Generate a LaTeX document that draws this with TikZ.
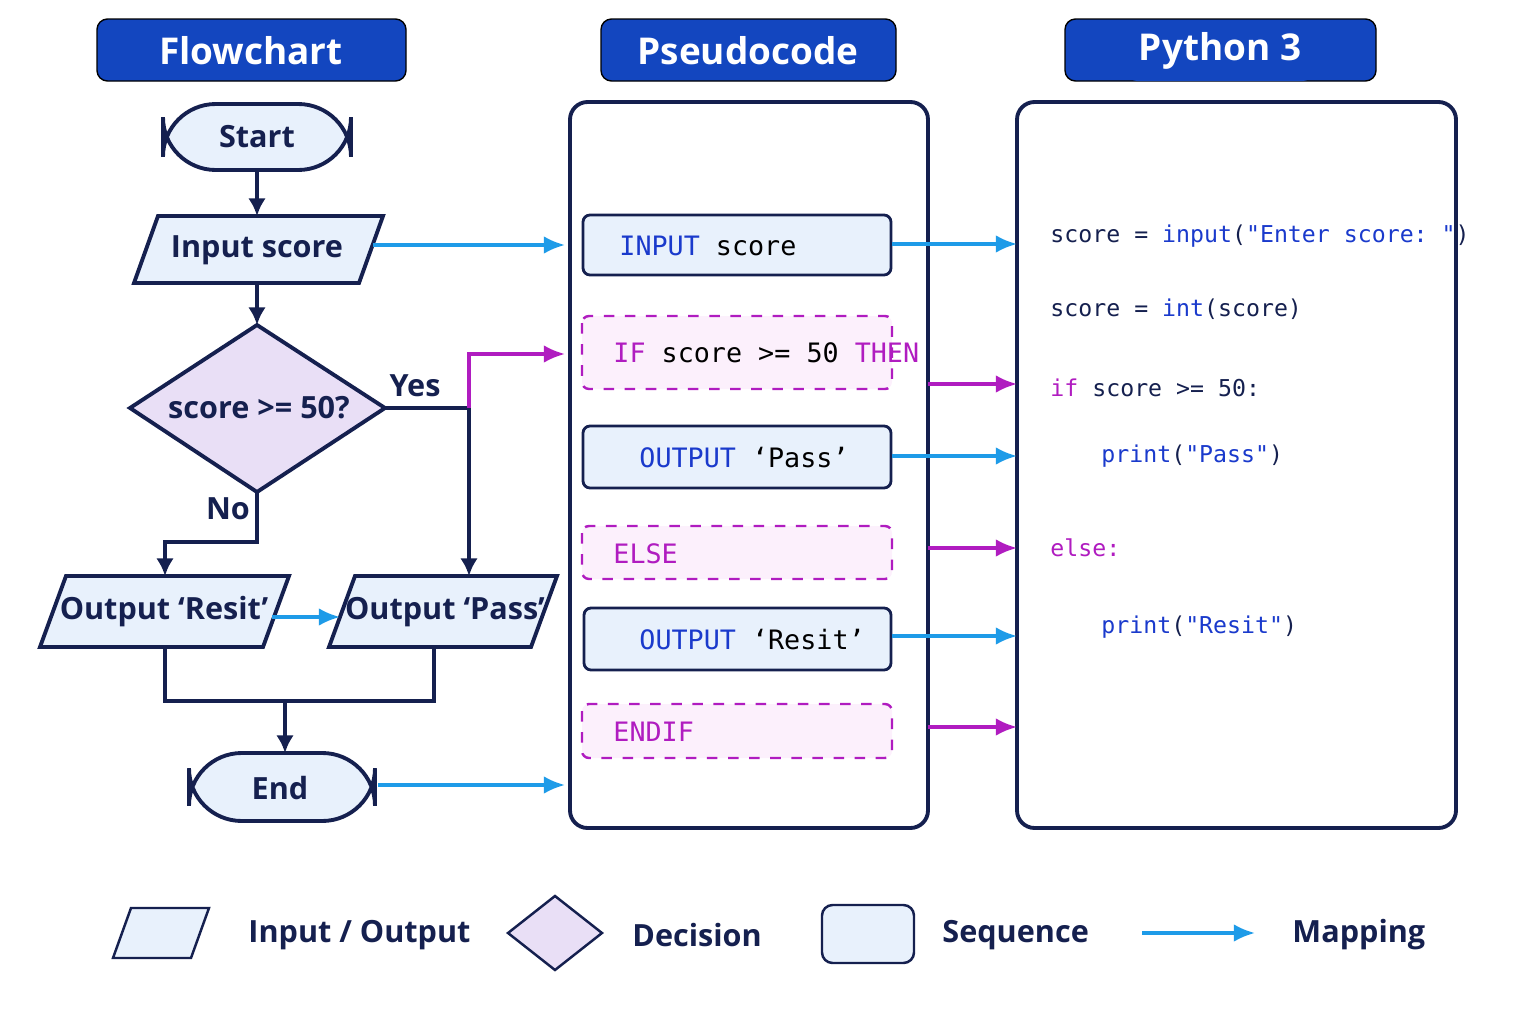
\documentclass[tikz,border=0pt]{standalone}
\usepackage{fontspec}
\setmainfont{Open Sans}
\setmonofont{DejaVu Sans Mono}
\usepackage{tikz}
\usetikzlibrary{arrows.meta,positioning,calc}
\definecolor{navy}{HTML}{15204F}
\definecolor{hdrblue}{HTML}{1346BF}
\definecolor{mapblue}{HTML}{1E9BE8}
\definecolor{magenta}{HTML}{B01CC0}
\definecolor{keyblue}{HTML}{1A3ACC}
\definecolor{boxfill}{HTML}{E8F1FC}
\definecolor{decfill}{HTML}{E9DFF6}
\definecolor{pinkfill}{HTML}{FCF0FC}
\tikzset{
  header/.style={fill=hdrblue,rounded corners=3pt,text=white,font=\fontsize{10.5}{12}\selectfont\bfseries},
  flowline/.style={draw=navy,line width=1.1pt},
  flowarrow/.style={flowline,-{Latex[length=5pt,width=5pt]}},
  maparrow/.style={draw=mapblue,line width=0.9pt,-{Latex[length=6pt,width=5pt]}},
  ifarrow/.style={draw=magenta,line width=0.9pt,-{Latex[length=6pt,width=5pt]}},
  flowtext/.style={font=\fontsize{8.7}{10}\selectfont\bfseries,text=navy},
  seqbox/.style={draw=navy,fill=boxfill,line width=0.8pt,rounded corners=2pt},
  ifbox/.style={draw=magenta,fill=pinkfill,line width=0.7pt,dashed,rounded corners=2pt},
  pseudo/.style={font=\fontsize{7.6}{9}\selectfont\ttfamily,anchor=west},
  pycode/.style={font=\fontsize{6.6}{8}\selectfont\ttfamily,anchor=west,text=navy},
  panel/.style={draw=navy,line width=1.1pt,rounded corners=5pt}
}
\newcommand{\kw}[1]{\textcolor{keyblue}{#1}}
\newcommand{\kif}[1]{\textcolor{magenta}{#1}}
\begin{document}
\begin{tikzpicture}[x=0.01cm,y=-0.01cm]
\useasboundingbox (0,0) rectangle (1536,1024);
% headers
\filldraw[header] (97,19) rectangle (406,81);
\node[header] (hflow) at (251,51) {Flowchart};
\filldraw[header] (601,19) rectangle (896,81);
\node[header] (hpseudo) at (748,51) {Pseudocode};
\filldraw[header] (1065,19) rectangle (1376,81);
\node[header] (hpy) at (1220,51) {Python 3};
% panels
\draw[panel] (570,102) rectangle (928,828);
\draw[panel] (1017,102) rectangle (1456,828);
% flowchart shapes
\draw[flowline,fill=boxfill,rounded corners=15pt] (163,104) rectangle (351,170);
\node[flowtext] (start) at (257,137) {Start};
\draw[flowline,fill=boxfill] (158,216) -- (383,216) -- (359,283) -- (134,283) -- cycle;
\node[flowtext] (input) at (257,250) {Input score};
\draw[flowline,fill=decfill] (257,325) -- (385,408) -- (257,492) -- (130,408) -- cycle;
\node[flowtext] (dec) at (259,408) {score >= 50?};
\draw[flowline,fill=boxfill] (66,576) -- (289,576) -- (263,647) -- (40,647) -- cycle;
\node[flowtext] (resit) at (164,612) {Output ‘Resit’};
\draw[flowline,fill=boxfill] (355,576) -- (557,576) -- (531,647) -- (329,647) -- cycle;
\node[flowtext] (pass) at (445,612) {Output ‘Pass’};
\draw[flowline,fill=boxfill,rounded corners=15pt] (189,753) rectangle (375,821);
\node[flowtext] (end) at (280,788) {End};
% flowchart connectors
\draw[flowarrow] (257,170) -- (257,216);
\draw[flowarrow] (257,283) -- (257,325);
\draw[flowarrow] (257,492) -- (257,542) -- (165,542) -- (165,576);
\node[flowtext] (no) at (228,509) {No};
\draw[flowarrow] (385,408) -- (469,408) -- (469,576);
\node[flowtext] (yes) at (415,386) {Yes};
\draw[ifarrow] (469,408) -- (469,354) -- (565,354);
\draw[maparrow] (272,617) -- (340,617);
\draw[flowline] (165,647) -- (165,701) -- (434,701) -- (434,647);
\draw[flowarrow] (285,701) -- (285,753);
\draw[maparrow] (373,245) -- (565,245);
\draw[maparrow] (378,785) -- (565,785);
% pseudocode
\draw[seqbox] (583,215) rectangle (891,275);
\node[pseudo] (p1) at (607,246) {\kw{INPUT} score};
\draw[ifbox] (582,316) rectangle (892,389);
\node[pseudo] (p2) at (601,353) {\kif{IF} score >= 50 \kif{THEN}};
\draw[seqbox] (583,426) rectangle (891,488);
\node[pseudo] (p3) at (627,458) {\kw{OUTPUT} ‘Pass’};
\draw[ifbox] (582,526) rectangle (892,579);
\node[pseudo] (p4) at (601,554) {\kif{ELSE}};
\draw[seqbox] (584,608) rectangle (891,670);
\node[pseudo] (p5) at (627,640) {\kw{OUTPUT} ‘Resit’};
\draw[ifbox] (582,704) rectangle (892,758);
\node[pseudo] (p6) at (601,732) {\kif{ENDIF}};
% python
\node[pycode] (py1) at (1038,236) {score = \kw{input}(\kw{"Enter score: "})};
\node[pycode] (py2) at (1038,309) {score = \kw{int}(score)};
\node[pycode] (py3) at (1038,388) {\kif{if} score >= 50:};
\node[pycode] (py4) at (1089,456) {\kw{print}(\kw{"Pass"})};
\node[pycode] (py5) at (1038,548) {\kif{else:}};
\node[pycode] (py6) at (1089,627) {\kw{print}(\kw{"Resit"})};
% mappings
\draw[maparrow] (892,244) -- (1017,244);
\draw[ifarrow] (928,384) -- (1017,384);
\draw[maparrow] (892,456) -- (1017,456);
\draw[ifarrow] (928,548) -- (1017,548);
\draw[maparrow] (892,636) -- (1017,636);
\draw[ifarrow] (928,727) -- (1017,727);
% legend
\draw[draw=navy,line width=0.7pt,fill=boxfill] (131,908) -- (209,908) -- (191,958) -- (113,958) -- cycle;
\node[flowtext,anchor=west] (lio) at (236,935) {Input / Output};
\draw[draw=navy,line width=0.7pt,fill=decfill] (555,896) -- (602,933) -- (555,970) -- (508,933) -- cycle;
\node[flowtext,anchor=west] (ldec) at (620,935) {Decision};
\draw[draw=navy,line width=0.7pt,fill=boxfill,rounded corners=3pt] (822,905) rectangle (914,963);
\node[flowtext,anchor=west] (lseq) at (930,935) {Sequence};
\draw[maparrow] (1142,933) -- (1255,933);
\node[flowtext,anchor=west] (lmap) at (1280,935) {Mapping};
\end{tikzpicture}
\end{document}
